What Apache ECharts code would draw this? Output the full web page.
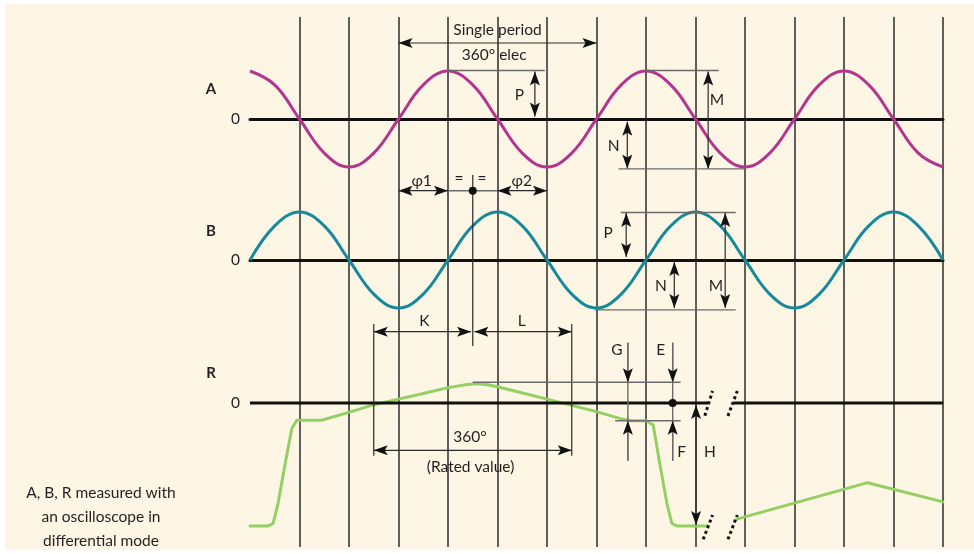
<!DOCTYPE html>
<html>
<head>
<meta charset="utf-8">
<script src="https://cdn.jsdelivr.net/npm/echarts@6/dist/echarts.min.js"></script>
<style>
  html, body { margin: 0; padding: 0; background: #ffffff; }
  #chart { width: 974px; height: 554px; }
</style>
</head>
<body>
<div id="chart"></div>
<script>
// Electrical angle (degrees) of each sample on traces A and B
const phaseDeg = [0, 45, 90, 135, 180, 225, 270, 315, 360, 405, 450, 495, 540, 585, 630,
  675, 720, 765, 810, 855, 900, 945, 990, 1035, 1080, 1125, 1170, 1215, 1260];

// Trace A (normalised to its peak)
const signalA = [1, 0.71, 0, -0.71, -1, -0.71, 0, 0.71, 1, 0.71, 0, -0.71, -1, -0.71, 0,
  0.71, 1, 0.71, 0, -0.71, -1, -0.71, 0, 0.71, 1, 0.71, 0, -0.71, -1];

// Trace B (normalised to its peak)
const signalB = [0, 0.71, 1, 0.71, 0, -0.71, -1, -0.71, 0, 0.71, 1, 0.71, 0, -0.71, -1,
  -0.71, 0, 0.71, 1, 0.71, 0, -0.71, -1, -0.71, 0, 0.71, 1, 0.71, 0];

// Trace R: angle and level; null marks the broken part of the time axis
const rAngle = [0, 33, 42, 51, 64, 76, 85, 130, 178, 224, 270, 319, 360, 395, 415, 435, 450,
  492, 540, 581, 630, 672, 694, 721, 733, 745, 758, 767, 776, 831, 858, 885, 1123, 1260];
const rLevel = [-2.56, -2.56, -2.51, -2.09, -1.26, -0.53, -0.36, -0.36, -0.20, -0.04, 0.08,
  0.21, 0.32, 0.385, 0.40, 0.375, 0.34, 0.22, 0.08, -0.04, -0.18, -0.32, -0.37, -0.37, -0.46,
  -1.26, -2.09, -2.51, -2.56, -2.56, null, -2.42, -1.66, -2.06];

const traceNames = ['A', 'B', 'R'];
const noteText = 'A, B, R measured with\nan oscilloscope in\ndifferential mode';

const FONT = 'Lato, "Noto Sans", sans-serif';
const INK = '#231f20';
const RULE = '#6a6a6a';
const TEXT_SIZE = 15.5;

// Dimension marks for trace A, in [angle, level] coordinates
const notesA = [
  { kind: 'dim', pts: [270, 1.583, 630, 1.583] },
  { kind: 'text', pts: [450, 1.854], text: 'Single period' },
  { kind: 'text', pts: [444, 1.333], text: '360° elec' },
  { kind: 'rule', pts: [360, 1.01, 536, 1.01] },
  { kind: 'dim', pts: [518, 0.99, 518, 0.05] },
  { kind: 'text', pts: [490, 0.5], text: 'P' },
  { kind: 'rule', pts: [718, 1.01, 852, 1.01] },
  { kind: 'dim', pts: [833, 0.99, 833, -1.04] },
  { kind: 'text', pts: [849, 0.4], text: 'M' },
  { kind: 'rule', pts: [670, -1.04, 900, -1.04] },
  { kind: 'dim', pts: [686, -0.056, 686, -1.03] },
  { kind: 'text', pts: [661, -0.5625], text: 'N' },
  { kind: 'dim', pts: [270, -1.494, 360, -1.494] },
  { kind: 'text', pts: [312, -1.285], text: 'φ1' },
  { kind: 'rule', pts: [360, -1.494, 450, -1.494] },
  { kind: 'stem', pts: [405, -1.167, 405, -4.73] },
  { kind: 'dot', pts: [405, -1.494] },
  { kind: 'text', pts: [380, -1.25], text: '=' },
  { kind: 'text', pts: [422, -1.25], text: '=' },
  { kind: 'dim', pts: [450, -1.494, 540, -1.494] },
  { kind: 'text', pts: [494, -1.285], text: 'φ2' },
  { kind: 'bold', pts: [-71, 0.62], text: traceNames[0] }
];

// Dimension marks for trace B
const notesB = [
  { kind: 'rule', pts: [674, 0.99, 883, 0.99] },
  { kind: 'dim', pts: [684, 0.98, 684, 0.06] },
  { kind: 'text', pts: [651, 0.556], text: 'P' },
  { kind: 'dim', pts: [771.5, -0.04, 771.5, -1.0] },
  { kind: 'text', pts: [747, -0.54], text: 'N' },
  { kind: 'dim', pts: [864, 0.98, 864, -1.0] },
  { kind: 'text', pts: [847, -0.54], text: 'M' },
  { kind: 'rule', pts: [627, -1.04, 883, -1.04] },
  { kind: 'bold', pts: [-71, 0.6], text: traceNames[1] }
];

// Dimension marks for trace R
const notesR = [
  { kind: 'axis', pts: [0, 0, 833, 0] },
  { kind: 'axis', pts: [879, 0, 1260, 0] },
  { kind: 'stem', pts: [225, 1.646, 225, -1.098] },
  { kind: 'stem', pts: [585, 1.646, 585, -1.098] },
  { kind: 'dim', pts: [225, 1.485, 402, 1.485] },
  { kind: 'text', pts: [317, 1.708], text: 'K' },
  { kind: 'dim', pts: [408, 1.485, 585, 1.485] },
  { kind: 'text', pts: [494, 1.708], text: 'L' },
  { kind: 'dim', pts: [225, -0.985, 585, -0.985] },
  { kind: 'text', pts: [400, -0.708], text: '360°' },
  { kind: 'text', pts: [401, -1.327], text: '(Rated value)' },
  { kind: 'rule', pts: [405, 0.431, 783, 0.431] },
  { kind: 'rule', pts: [664, -0.369, 783, -0.369] },
  { kind: 'rule', pts: [687, 1.256, 687, -1.202] },
  { kind: 'pointer', pts: [687, 1.256, 687, 0.431] },
  { kind: 'pointer', pts: [687, -1.202, 687, -0.369] },
  { kind: 'rule', pts: [768.5, 1.256, 768.5, -1.202] },
  { kind: 'pointer', pts: [768.5, 1.256, 768.5, 0.431] },
  { kind: 'pointer', pts: [768.5, -1.202, 768.5, -0.369] },
  { kind: 'dot', pts: [768.5, 0] },
  { kind: 'dim', pts: [811, -0.04, 811, -2.54] },
  { kind: 'text', pts: [667, 1.104], text: 'G' },
  { kind: 'text', pts: [747, 1.104], text: 'E' },
  { kind: 'text', pts: [785, -1.014], text: 'F' },
  { kind: 'text', pts: [836, -1.014], text: 'H' },
  { kind: 'gap', pts: [827, -0.265, 841, 0.25] },
  { kind: 'gap', pts: [869, -0.27, 886, 0.25] },
  { kind: 'gap', pts: [824, -2.84, 841, -2.333] },
  { kind: 'gap', pts: [869, -2.84, 886, -2.333] },
  { kind: 'bold', pts: [-71, 0.62], text: traceNames[2] }
];

// Filled arrow head with its tip on `tip`, pointing away from `from`
function arrowHead(tip, from) {
  const dx = tip[0] - from[0], dy = tip[1] - from[1];
  const len = Math.hypot(dx, dy) || 1;
  const ux = dx / len, uy = dy / len, px = -uy, py = ux;
  const L = 14, W = 5, N = 3;
  return {
    type: 'polygon',
    shape: { points: [
      tip,
      [tip[0] - ux * L + px * W, tip[1] - uy * L + py * W],
      [tip[0] - ux * (L - N), tip[1] - uy * (L - N)],
      [tip[0] - ux * L - px * W, tip[1] - uy * L - py * W]
    ] },
    style: { fill: '#111' }
  };
}

function seg(a, b, color, width, dash) {
  return {
    type: 'line',
    shape: { x1: a[0], y1: a[1], x2: b[0], y2: b[1] },
    style: { stroke: color, lineWidth: width, lineDash: dash || null }
  };
}

function noteRenderer(list) {
  return function (params, api) {
    const n = list[params.dataIndex];
    const a = api.coord([api.value(0), api.value(1)]);
    const b = n.pts.length > 2 ? api.coord([api.value(2), api.value(3)]) : a;
    switch (n.kind) {
      case 'dim':
        return { type: 'group', children: [seg(a, b, '#2a2a2a', 1.2), arrowHead(a, b), arrowHead(b, a)] };
      case 'pointer':
        return { type: 'group', children: [seg(a, b, RULE, 1.4), arrowHead(b, a)] };
      case 'rule':
        return seg(a, b, RULE, 1.4);
      case 'stem':
        return seg(a, b, '#2a2a2a', 1.2);
      case 'axis':
        return seg(a, b, '#111', 3);
      case 'gap':
        return seg(a, b, '#111', 3, [3, 3]);
      case 'dot':
        return { type: 'circle', shape: { cx: a[0], cy: a[1], r: 4 }, style: { fill: '#111' } };
      case 'bold':
      case 'text':
        return {
          type: 'text',
          style: {
            text: n.text, x: a[0], y: a[1], align: 'center', verticalAlign: 'middle',
            fill: INK, font: (n.kind === 'bold' ? 'bold 15px ' : TEXT_SIZE + 'px ') + FONT
          }
        };
    }
    return null;
  };
}

function noteSeries(list, axisIndex) {
  return {
    type: 'custom',
    xAxisIndex: axisIndex,
    yAxisIndex: axisIndex,
    coordinateSystem: 'cartesian2d',
    renderItem: noteRenderer(list),
    data: list.map(n => n.pts.length > 2 ? n.pts : n.pts.concat(n.pts)),
    encode: { x: [0, 2], y: [1, 3] },
    silent: true,
    z: 5
  };
}

const gridBase = { left: 250, width: 693, containLabel: false, outerBoundsMode: 'none' };

function xAxisFor(gridIndex, showZero, showDivisions) {
  return {
    type: 'value', gridIndex, min: 0, max: 1260, interval: 90,
    axisLine: { show: showZero, onZero: true, lineStyle: { color: '#111', width: 3 } },
    axisTick: { show: false },
    axisLabel: { show: false },
    splitLine: {
      show: showDivisions, showMinLine: false, showMaxLine: true,
      lineStyle: { color: '#2b2b2b', width: 1.5 }
    }
  };
}

function yAxisFor(gridIndex, lim, labelled) {
  return {
    type: 'value', gridIndex, min: -lim, max: lim, interval: lim,
    show: true,
    axisLine: { show: false },
    axisTick: { show: false },
    splitLine: { show: false },
    axisLabel: {
      show: labelled, margin: 10, color: INK, fontFamily: FONT, fontSize: TEXT_SIZE,
      formatter: v => (v === 0 ? '0' : '')
    }
  };
}

const chart = echarts.init(document.getElementById('chart'), null, { renderer: 'canvas' });

chart.setOption({
  backgroundColor: '#ffffff',
  animation: false,
  graphic: [
    { type: 'rect', z: -10, silent: true, shape: { x: 5, y: 4, width: 969, height: 546 }, style: { fill: '#fdf6e5' } },
    {
      type: 'text', silent: true, x: 101, y: 481,
      style: {
        text: noteText, align: 'center', verticalAlign: 'top', lineHeight: 24,
        fill: INK, font: TEXT_SIZE + 'px ' + FONT
      }
    }
  ],
  grid: [
    Object.assign({ top: 17, height: 530 }, gridBase),   // division lines
    Object.assign({ top: 23, height: 192 }, gridBase),   // A
    Object.assign({ top: 164, height: 192 }, gridBase),  // B
    Object.assign({ top: 259, height: 288 }, gridBase)   // R
  ],
  xAxis: [
    xAxisFor(0, false, true),
    xAxisFor(1, true, false),
    xAxisFor(2, true, false),
    xAxisFor(3, false, false)
  ],
  yAxis: [
    Object.assign(yAxisFor(0, 1, false), { show: false }),
    yAxisFor(1, 2, true),
    yAxisFor(2, 2, true),
    yAxisFor(3, 3, true)
  ],
  series: [
    {
      name: 'A', type: 'line', xAxisIndex: 1, yAxisIndex: 1,
      data: phaseDeg.map((d, i) => [d, signalA[i]]),
      smooth: 0.4, showSymbol: false, silent: true, z: 3,
      lineStyle: { color: '#b4358f', width: 3 }
    },
    {
      name: 'B', type: 'line', xAxisIndex: 2, yAxisIndex: 2,
      data: phaseDeg.map((d, i) => [d, signalB[i]]),
      smooth: 0.4, showSymbol: false, silent: true, z: 3,
      lineStyle: { color: '#16899a', width: 3 }
    },
    {
      name: 'R', type: 'line', xAxisIndex: 3, yAxisIndex: 3,
      data: rAngle.map((d, i) => [d, rLevel[i] === null ? '-' : rLevel[i]]),
      connectNulls: false, smooth: false, showSymbol: false, silent: true, z: 3,
      lineStyle: { color: '#93cf62', width: 3, join: 'round', cap: 'round' }
    },
    noteSeries(notesA, 1),
    noteSeries(notesB, 2),
    noteSeries(notesR, 3)
  ]
});
</script>
</body>
</html>
